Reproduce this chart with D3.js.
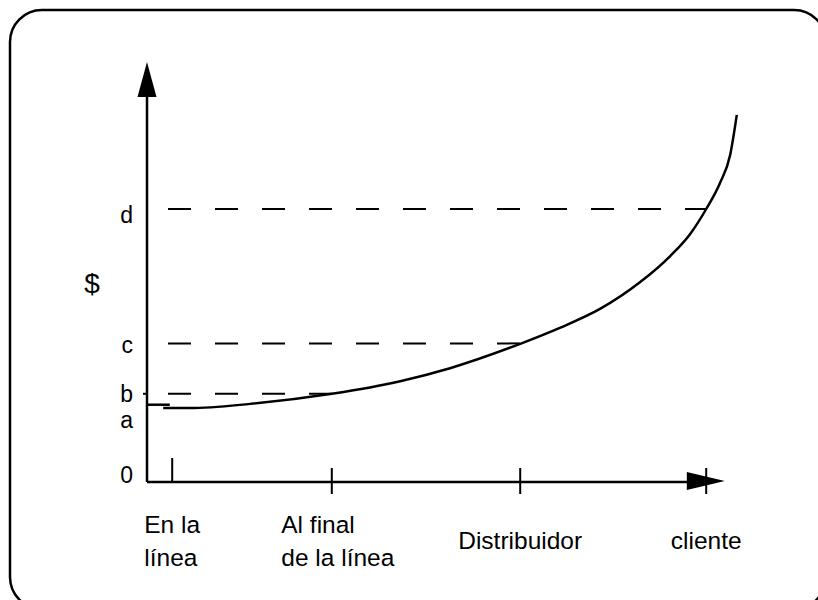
<!DOCTYPE html>
<html>
<head>
<meta charset="utf-8">
<script src="https://cdn.jsdelivr.net/npm/d3@7"></script>
<style>
  body { margin: 0; background: #fff; }
  text { font-family: "Liberation Sans", Arial, sans-serif; fill: #000; }
</style>
</head>
<body>
<div class="chart"></div>
<script>
// stages along the chain (x) and the cost levels (y)
const stageLabels = [['En la', 'línea'], ['Al final', 'de la línea'], ['Distribuidor'], ['cliente']];
const stageX = [4.2, 30.8, 62.2, 93.2];
const levelNames = ['0', 'a', 'b', 'c', 'd'];
const levelValues = [0, 18, 21, 33, 65];
// the cost curve
const curveX = [2.7, 7.2, 17.2, 30.8, 42.2, 50.5, 62.2, 68.8, 75.5, 82.2, 87.2, 90.5, 93.2, 95.5, 97.2, 98.3];
const curveY = [17.6, 17.6, 18.6, 21.0, 24.0, 27.1, 32.9, 36.7, 41.2, 47.6, 53.8, 59.0, 65.0, 71.2, 77.9, 87.4];

const width = 818, height = 600;

let svg = d3.select('.chart')
    .append('svg')
    .attr('width', width)
    .attr('height', height);

// rounded frame
svg.append('rect')
    .attr('x', 10)
    .attr('y', 10)
    .attr('width', 816)
    .attr('height', 599)
    .attr('rx', 32)
    .attr('fill', 'none')
    .attr('stroke', 'black')
    .attr('stroke-width', 2.5);

const xScale = d3.scaleLinear()
    .domain([0, 100])
    .range([147, 747]);
const yScale = d3.scaleLinear()
    .domain([0, 100])
    .range([482, 62]);

const x0 = xScale(0), y0 = yScale(0);
const xEnd = xScale(96.3), yTop = yScale(100);

// axes
svg.append('line')
    .attr('x1', x0).attr('y1', y0)
    .attr('x2', x0).attr('y2', yTop + 20)
    .attr('stroke', 'black')
    .attr('stroke-width', 2.5);
svg.append('path')
    .attr('d', `M${x0},${yTop} L${x0 - 9.5},${yTop + 35} L${x0 + 9.5},${yTop + 35} Z`)
    .attr('fill', 'black');

svg.append('line')
    .attr('x1', x0).attr('y1', y0)
    .attr('x2', xEnd - 20).attr('y2', y0)
    .attr('stroke', 'black')
    .attr('stroke-width', 2.5);
svg.append('path')
    .attr('d', `M${xEnd},${y0 - 1} L${xEnd - 38},${y0 - 10} L${xEnd - 38},${y0 + 8} Z`)
    .attr('fill', 'black');

// stage ticks
svg.selectAll('.stage-tick')
    .data(stageX)
    .enter()
    .append('line')
    .attr('class', 'stage-tick')
    .attr('x1', d => xScale(d))
    .attr('x2', d => xScale(d))
    .attr('y1', (d, i) => i === 0 ? y0 - 24 : y0 - 14)
    .attr('y2', (d, i) => i === 0 ? y0 : y0 + 12)
    .attr('stroke', 'black')
    .attr('stroke-width', 2);

// stage labels
let stageGroups = svg.selectAll('.stage')
    .data(stageLabels)
    .enter()
    .append('text')
    .attr('class', 'stage')
    .attr('font-size', 24.5);

stageGroups.selectAll('tspan')
    .data(d => d.map((t, i) => ({t: t, i: i, n: d.length})))
    .enter()
    .append('tspan')
    .text(d => d.t)
    .attr('y', d => 549 + (d.i - (d.n - 1) / 2) * 33);

stageGroups.each(function(d, i) {
    const spans = d3.select(this).selectAll('tspan');
    let w = 0;
    spans.each(function() { w = Math.max(w, this.getComputedTextLength()); });
    spans.attr('x', xScale(stageX[i]) - w / 2 + (i === 1 ? 6 : 0));
});

// dashed level lines, each running to the stage where the curve meets it
svg.selectAll('.level-line')
    .data(levelValues.slice(2))
    .enter()
    .append('line')
    .attr('class', 'level-line')
    .attr('x1', xScale(3.5))
    .attr('x2', (d, i) => xScale(stageX[i + 1]))
    .attr('y1', d => yScale(d))
    .attr('y2', d => yScale(d))
    .attr('stroke', 'black')
    .attr('stroke-width', 2)
    .attr('stroke-dasharray', '23,24');

// small mark at b
svg.append('line')
    .attr('x1', x0 - 4).attr('x2', x0)
    .attr('y1', yScale(levelValues[2])).attr('y2', yScale(levelValues[2]))
    .attr('stroke', 'black')
    .attr('stroke-width', 2);

// level labels: a sits below its line, the others are centred on theirs
svg.selectAll('.level')
    .data(levelNames)
    .enter()
    .append('text')
    .attr('class', 'level')
    .text(d => d)
    .attr('x', 133)
    .attr('y', (d, i) => yScale(levelValues[i]) + (i === 0 ? 1 : i === 1 ? 22 : i === 2 ? 8 : i === 4 ? 14 : 10))
    .attr('text-anchor', 'end')
    .attr('font-size', 23);

svg.append('text')
    .text('$')
    .attr('x', 92)
    .attr('y', 293)
    .attr('text-anchor', 'middle')
    .attr('font-size', 28);

// flat start along a, then the curve
svg.append('line')
    .attr('x1', x0).attr('x2', xScale(3.8))
    .attr('y1', yScale(18.4)).attr('y2', yScale(18.4))
    .attr('stroke', 'black')
    .attr('stroke-width', 2.5);

const line = d3.line()
    .x(d => xScale(d[0]))
    .y(d => yScale(d[1]))
    .curve(d3.curveMonotoneX);

svg.append('path')
    .datum(d3.zip(curveX, curveY))
    .attr('d', line)
    .attr('fill', 'none')
    .attr('stroke', 'black')
    .attr('stroke-width', 2.5);
</script>
</body>
</html>
